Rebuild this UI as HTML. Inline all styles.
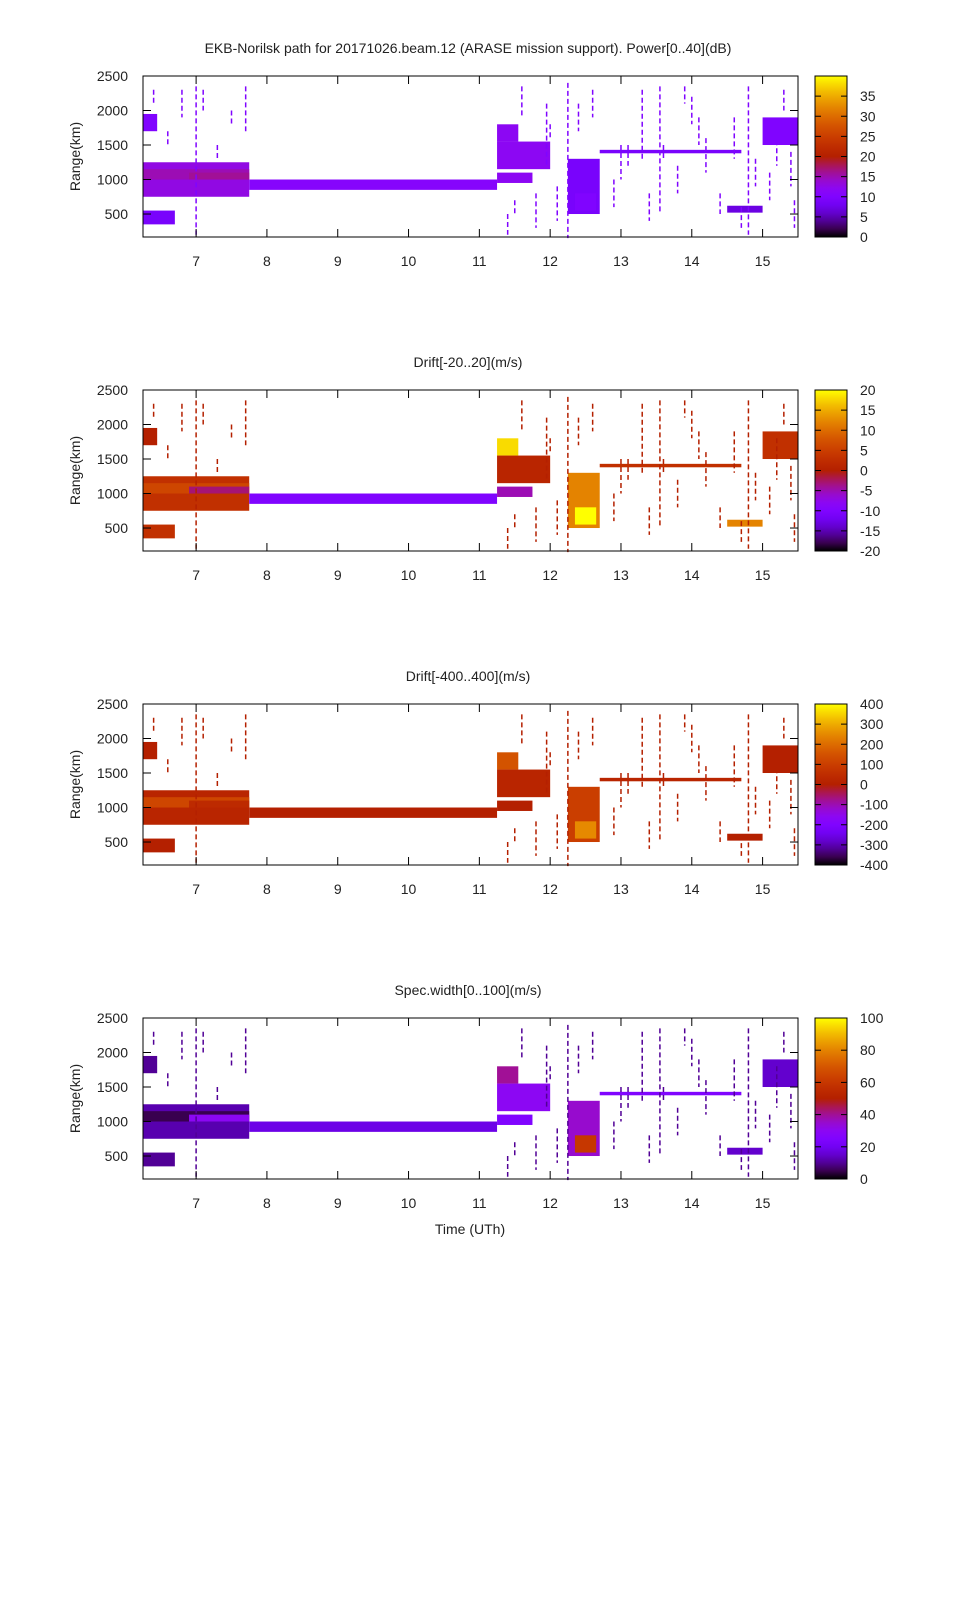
<!DOCTYPE html>
<html><head><meta charset="utf-8">
<style>
body{margin:0;background:#fff;}
svg text{font-family:"Liberation Sans",sans-serif;font-size:14px;fill:#222;}
</style></head>
<body>
<svg id="chart" width="960" height="1600" xmlns="http://www.w3.org/2000/svg">
<rect width="960" height="1600" fill="#fff"/>
<text x="468" y="53" text-anchor="middle">EKB-Norilsk path for 20171026.beam.12 (ARASE mission support). Power[0..40](dB)</text>
<text x="470" y="1234" text-anchor="middle">Time (UTh)</text>
</svg>
<script>
// ---- data ----
const panelTitles = ["", "Drift[-20..20](m/s)", "Drift[-400..400](m/s)", "Spec.width[0..100](m/s)"];
const panelMin = [0, -20, -400, 0];
const panelMax = [40, 20, 400, 100];
const cbTicks = [
  [0,5,10,15,20,25,30,35],
  [-20,-15,-10,-5,0,5,10,15,20],
  [-400,-300,-200,-100,0,100,200,300,400],
  [0,20,40,60,80,100]
];
const xTicks = [7,8,9,10,11,12,13,14,15];
const yTicks = [500,1000,1500,2000,2500];
// blocks: time start, time end, range start, range end
const blockT0 = [6.25,7.75,11.25,11.25,11.25,12.25,12.35,6.25,6.25,14.5,15.0,12.7,6.25,6.9];
const blockT1 = [7.75,11.25,11.55,12.0,11.75,12.7,12.65,6.45,6.7,15.0,15.5,14.7,7.75,7.75];
const blockR0 = [750,850,1550,1150,950,500,550,1700,350,520,1500,1380,1000,1000];
const blockR1 = [1250,1000,1800,1550,1100,1300,800,1950,550,620,1900,1430,1150,1100];
const powerVals = [13,11,12,12,12,9,10,10,9,7,10,9,15,16];
const driftVals = [3,-10,18,1,-5,12,20,0,3,12,3,3,6,-3];
const velVals = [20,0,150,20,0,100,250,0,0,0,0,20,120,40];
const widthVals = [12,18,40,30,25,35,60,10,10,15,15,25,5,30];
// speckle streaks: time, range start, range end
const streakT = [7.0,12.25,13.55,13.6,14.8,6.6,6.8,7.3,7.5,7.7,11.4,11.6,11.8,11.95,12.1,12.4,12.9,13.1,13.3,13.8,14.0,14.2,14.4,14.6,14.9,15.1,15.3,15.45,12.6,13.4,14.1,14.7,15.2,6.4,7.1,11.5,12.0,13.0,13.9,15.4];
const streakR0 = [200,150,500,1300,200,1500,1900,1300,1800,1700,200,1900,300,1200,400,1700,600,1200,1300,800,1800,1100,500,1300,900,700,2000,300,1900,400,1500,300,1200,2100,2000,500,1600,1000,2100,900];
const streakR1 = [2350,2400,2350,1500,2350,1700,2300,1500,2000,2350,500,2350,800,2100,900,2100,1000,1500,2300,1200,2200,1600,800,1900,1300,1100,2300,700,2300,800,1900,600,1800,2300,2300,700,1800,1500,2350,1400];
const streakVals = [10,0,0,10];
// ---- drawing ----
const svg = document.getElementById('chart');
const NS = "http://www.w3.org/2000/svg";
const panelTops = [76,390,704,1018];
const PX0=143, PX1=798, PH=161, T0=6.25, T1=15.5, R0=167, R1=2500;
const valueSets=[powerVals,driftVals,velVals,widthVals];
function pal(x){x=Math.max(0,Math.min(1,x));
  const r=Math.sqrt(x),g=x*x*x,b=Math.max(0,Math.sin(2*Math.PI*x));
  return `rgb(${Math.round(r*255)},${Math.round(g*255)},${Math.round(b*255)})`;}
function el(tag,attrs,parent){const e=document.createElementNS(NS,tag);for(const k in attrs)e.setAttribute(k,attrs[k]);(parent||svg).appendChild(e);return e;}
const defs=el('defs',{});
const grad=el('linearGradient',{id:'pal',x1:0,y1:1,x2:0,y2:0},defs);
for(let i=0;i<=20;i++){el('stop',{offset:i/20,'stop-color':pal(i/20)},grad);}
panelTops.forEach((top,p)=>{
  const g=el('g',{});
  
  
  const xs=t=>PX0+(t-T0)/(T1-T0)*(PX1-PX0);
  const ys=r=>top+PH-(r-R0)/(R1-R0)*PH;
  const norm=v=>(v-panelMin[p])/(panelMax[p]-panelMin[p]);
  if(panelTitles[p]){const t=el('text',{x:468,y:top-23,'text-anchor':'middle'},g);t.textContent=panelTitles[p];
    
    }
  const vals=valueSets[p];
  blockT0.forEach((t0,i)=>{
    const r=el('rect',{x:xs(t0),y:ys(blockR1[i]),width:xs(blockT1[i])-xs(t0),height:ys(blockR0[i])-ys(blockR1[i]),fill:pal(norm(vals[i]))},g);
    
    
  });
  streakT.forEach((t,i)=>{
    const l=el('line',{x1:xs(t),x2:xs(t),y1:ys(streakR1[i]),y2:ys(streakR0[i]),stroke:pal(norm(streakVals[p])),'stroke-width':1.5,'stroke-dasharray':'5 3'},g);
    
    
  });
  const frame=el('rect',{x:PX0,y:top,width:PX1-PX0,height:PH,fill:'none',stroke:'#000','stroke-width':1},g);
  
  
  xTicks.forEach(t=>{const x=xs(t);
    el('line',{x1:x,x2:x,y1:top+PH,y2:top+PH-8,stroke:'#000'},g);
    el('line',{x1:x,x2:x,y1:top,y2:top+8,stroke:'#000'},g);
    const tx=el('text',{x:x,y:top+PH+29,'text-anchor':'middle'},g);tx.textContent=t;
    
    });
  yTicks.forEach(r=>{const y=ys(r);
    el('line',{x1:PX0,x2:PX0+8,y1:y,y2:y,stroke:'#000'},g);
    el('line',{x1:PX1,x2:PX1-8,y1:y,y2:y,stroke:'#000'},g);
    const tx=el('text',{x:128,y:y+5,'text-anchor':'end'},g);tx.textContent=r;
    
    });
  const yt=el('text',{x:80,y:top+PH/2,'text-anchor':'middle',transform:`rotate(-90 80 ${top+PH/2})`},g);yt.textContent='Range(km)';
  
  
  const cb=el('rect',{x:815,y:top,width:32,height:PH,fill:'url(#pal)',stroke:'#000'},g);
  
  
  cbTicks[p].forEach(v=>{const y=top+PH-norm(v)*PH;
    el('line',{x1:815,x2:821,y1:y,y2:y,stroke:'#000'},g);
    el('line',{x1:847,x2:841,y1:y,y2:y,stroke:'#000'},g);
    const tx=el('text',{x:860,y:y+5},g);tx.textContent=v;
    
    });
});
</script>
</body></html>
